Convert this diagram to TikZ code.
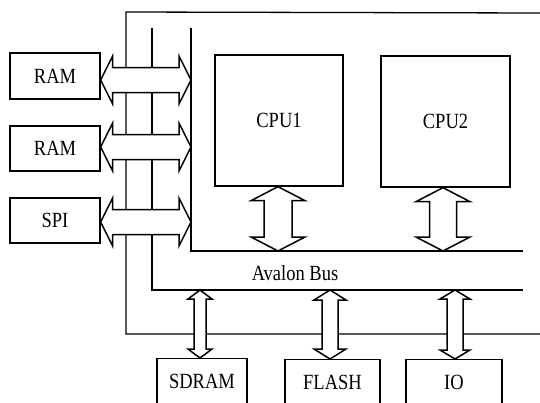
\documentclass[tikz,border=0pt]{standalone}
\usepackage{fontspec}
\usepackage{graphicx}
\setmainfont{Liberation Serif}
\usetikzlibrary{calc}
\newcommand\tx[1]{\scalebox{1}[1.17]{#1}}
\tikzset{
  box/.style={draw, line width=1.3pt, inner sep=0pt, font=\fontsize{18.5}{20}\selectfont},
  lbl/.style={inner sep=0pt, font=\fontsize{18.5}{20}\selectfont},
  busline/.style={line width=1.3pt},
  arr/.style={draw=black, fill=white, line width=1.5pt, line join=miter},
}
\newcommand\hdarr[5]{%
  \filldraw[arr] let \p1=(#1), \p2=(#2) in
    (\p1) -- ++(#5pt,#3pt) -- ++(0,#4pt-#3pt) -- (\x2-#5pt,\y1+#4pt) -- ++(0,#3pt-#4pt)
    -- (\p2) -- ++(-#5pt,-#3pt) -- ++(0,#3pt-#4pt) -- (\x1+#5pt,\y1-#4pt) -- ++(0,#4pt-#3pt) -- cycle;}
\newcommand\vdarr[5]{%
  \filldraw[arr] let \p1=(#1), \p2=(#2) in
    (\p1) -- ++(-#3pt,-#5pt) -- ++(#3pt-#4pt,0) -- (\x1-#4pt,\y2+#5pt) -- ++(#4pt-#3pt,0)
    -- (\p2) -- ++(#3pt,#5pt) -- ++(#4pt-#3pt,0) -- (\x1+#4pt,\y1-#5pt) -- ++(#3pt-#4pt,0) -- cycle;}
\begin{document}
\begin{tikzpicture}[x=1pt,y=-1pt]
\clip (0,0) rectangle (540,402);
\fill[white] (0,0) rectangle (540,402);
% bus lines
\draw[busline] (540,13) -- (126,12) -- (126,334) -- (540,334);
\draw[busline] (152,28) -- (152,290) -- (523,290);
\draw[busline] (191,28) -- (191,251) -- (523,251);
% nodes
\node[box, minimum width=90, minimum height=46] (ram1) at (55,76) {\tx{RAM}};
\node[box, minimum width=90, minimum height=45] (ram2) at (55,148.5) {\tx{RAM}};
\node[box, minimum width=90, minimum height=45] (spi) at (55,220.5) {\tx{SPI}};
\node[box, minimum width=128, minimum height=131] (cpu1) at (279,120.5) {\tx{CPU1}};
\node[box, minimum width=129, minimum height=131] (cpu2) at (445.5,121.5) {\tx{CPU2}};
\node[box, minimum width=90, minimum height=46, anchor=north] (sdram) at (202,358) {\tx{SDRAM}};
\node[box, minimum width=95, minimum height=46, anchor=north] (flash) at (332.5,359) {\tx{FLASH}};
\node[box, minimum width=96, minimum height=46, anchor=north] (io) at (454,359) {\tx{IO}};
\node[lbl] (bus) at (295,273) {\tx{Avalon Bus}};
% connector end points on the bus
\coordinate (r1b) at (191,80);
\coordinate (r2b) at (191,147);
\coordinate (spib) at (191,222);
\coordinate (c1b) at (278,251);
\coordinate (c2b) at (443,251);
\coordinate (sdb) at (200,290);
\coordinate (flb) at (330,290);
\coordinate (iob) at (455,290);
% horizontal double arrows
\hdarr{ram1.east |- r1b}{r1b}{24}{12.5}{12}
\hdarr{ram2.east |- r2b}{r2b}{24}{12.5}{12}
\hdarr{spi.east |- spib}{spib}{24}{12.5}{12}
% vertical double arrows
\vdarr{cpu1.south -| c1b}{c1b}{27}{14}{14}
\vdarr{cpu2.south -| c2b}{c2b}{27}{13.5}{14}
\vdarr{sdb}{sdram.north -| sdb}{12}{6}{9}
\vdarr{flb}{flash.north -| flb}{16}{8}{10}
\vdarr{iob}{io.north -| iob}{15}{8}{9}
\end{tikzpicture}
\end{document}
